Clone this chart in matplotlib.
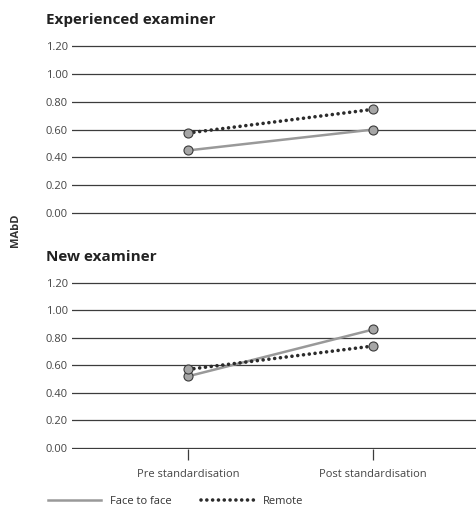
import matplotlib.pyplot as plt

plt.rcParams['font.family'] = ['Open Sans', 'DejaVu Sans']

stages = ['Pre standardisation', 'Post standardisation']
yticks = [0.0, 0.2, 0.4, 0.6, 0.8, 1.0, 1.2]

# experienced examiner
exp_face = [0.45, 0.60]
exp_remote = [0.575, 0.745]
# new examiner
new_face = [0.52, 0.86]
new_remote = [0.57, 0.74]

dots = (0, (0.01, 1.6))

fig = plt.figure(figsize=(4.77, 5.17), dpi=100)
ax1 = fig.add_axes([0.151, 0.585, 0.849, 0.329])
ax2 = fig.add_axes([0.151, 0.131, 0.849, 0.325])

def draw(ax, face, remote, title, show_x):
    x = [0, 1]
    ax.plot(x, face, color='#999999', lw=1.8, zorder=3, solid_capstyle='butt')
    ax.plot(x, remote, color='#2b2b2b', lw=2.6, ls=dots,
            dash_capstyle='round', zorder=3)
    for vals in (face, remote):
        ax.plot(x, vals, ls='none', marker='o', ms=6.5, mfc='#a6a6a6',
                mec='#3a3a3a', mew=0.8, zorder=4, clip_on=False)
    ax.set_xlim(-0.627, 1.56)
    ax.set_ylim(-0.01, 1.21)
    ax.set_yticks(yticks)
    ax.set_yticklabels(['%.2f' % v for v in yticks])
    ax.grid(axis='y', color='#3c3c3c', lw=0.9)
    ax.set_axisbelow(True)
    for s in ax.spines.values():
        s.set_visible(False)
    ax.tick_params(axis='y', length=0, pad=3, labelsize=8, labelcolor='#444444')
    if show_x:
        ax.set_xticks(x)
        ax.set_xticklabels(stages)
        ax.tick_params(axis='x', length=8, width=0.9, color='#3c3c3c',
                       pad=6, labelsize=8, labelcolor='#444444')
    else:
        ax.set_xticks([])
    ax.text(-0.064, 1.105, title, transform=ax.transAxes, fontsize=11,
            fontweight='bold', color='#222222', va='bottom', ha='left')

draw(ax1, exp_face, exp_remote, 'Experienced examiner', False)
draw(ax2, new_face, new_remote, 'New examiner', True)

fig.text(0.032, 0.555, 'MAbD', rotation=90, fontsize=8, fontweight='bold',
         color='#333333', ha='center', va='center')

h1, = ax2.plot([], [], color='#999999', lw=1.8)
h2, = ax2.plot([], [], color='#2b2b2b', lw=2.6, ls=dots,
               dash_capstyle='round')
fig.legend([h1, h2], ['Face to face', 'Remote'], loc='lower left',
           bbox_to_anchor=(0.08, 0.0), ncol=2, frameon=False, fontsize=8,
           handlelength=4.8, columnspacing=2.6, labelcolor='#333333')

fig.savefig('out.png', dpi=100)
